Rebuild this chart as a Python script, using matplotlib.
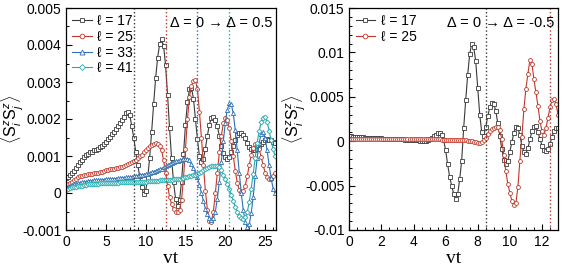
import matplotlib
matplotlib.use('Agg')
import matplotlib.pyplot as plt
import numpy as np
from matplotlib.ticker import MultipleLocator, FuncFormatter

plt.rcParams['font.family'] = ['Liberation Sans', 'DejaVu Sans']
plt.rcParams['mathtext.fontset'] = 'custom'
plt.rcParams['mathtext.rm'] = 'Liberation Sans'
plt.rcParams['mathtext.it'] = 'Liberation Sans:italic'

# left panel, Delta = 0 -> 0.5, vt step 0.25, values in units of 1e-3
t_left = np.arange(0, 26.26, 0.25)
left_17 = [0.40, 0.43, 0.48, 0.53, 0.60, 0.67, 0.75, 0.83,
           0.90, 0.96, 1.02, 1.06, 1.10, 1.12, 1.15, 1.17,
           1.20, 1.24, 1.28, 1.33, 1.39, 1.45, 1.52, 1.59,
           1.66, 1.74, 1.82, 1.90, 1.98, 2.06, 2.15, 2.20,
           2.10, 1.82, 1.50, 1.12, 0.76, 0.45, 0.15, -0.03,
           0.05, 0.40, 0.95, 1.65, 2.40, 3.10, 3.65, 4.02,
           4.15, 3.98, 3.45, 2.65, 1.75, 0.95, 0.30, -0.15,
           -0.36, -0.20, 0.30, 1.05, 1.85, 2.45, 2.80, 2.85,
           2.55, 2.00, 1.45, 1.00, 0.85, 0.92, 1.20, 1.55,
           1.85, 2.02, 2.05, 1.98, 1.80, 1.55, 1.28, 1.08,
           0.96, 0.92, 0.97, 1.10, 1.27, 1.44, 1.56, 1.61,
           1.62, 1.58, 1.48, 1.36, 1.25, 1.18, 1.15, 1.16,
           1.20, 1.26, 1.33, 1.39, 1.43, 1.45, 1.44, 1.42,
           1.38, 1.35]
left_25 = [0.20, 0.23, 0.27, 0.31, 0.35, 0.39, 0.42, 0.45,
           0.47, 0.49, 0.50, 0.51, 0.51, 0.52, 0.53, 0.54,
           0.55, 0.57, 0.58, 0.60, 0.61, 0.62, 0.64, 0.65,
           0.66, 0.67, 0.68, 0.70, 0.71, 0.73, 0.75, 0.78,
           0.80, 0.83, 0.86, 0.90, 0.94, 0.99, 1.04, 1.10,
           1.15, 1.21, 1.26, 1.30, 1.33, 1.34, 1.33, 1.27,
           1.16, 0.88, 0.55, 0.20, -0.10, -0.30, -0.43, -0.50,
           -0.52, -0.45, -0.20, 0.40, 1.20, 2.00, 2.60, 2.90,
           3.02, 3.05, 2.80, 2.20, 1.50, 0.75, 0.05, -0.45,
           -0.75, -0.78, -0.50, 0.00, 0.55, 1.10, 1.55, 1.88,
           2.02, 1.98, 1.75, 1.40, 1.00, 0.60, 0.28, 0.08,
           0.02, 0.05, 0.20, 0.45, 0.75, 1.02, 1.22, 1.32,
           1.30, 1.18, 0.98, 0.75, 0.55, 0.42, 0.37, 0.38,
           0.45, 0.55]
left_33 = [0.15, 0.17, 0.19, 0.21, 0.23, 0.25, 0.26, 0.27,
           0.29, 0.30, 0.31, 0.32, 0.33, 0.33, 0.34, 0.34,
           0.35, 0.35, 0.36, 0.36, 0.37, 0.37, 0.38, 0.38,
           0.39, 0.39, 0.40, 0.40, 0.41, 0.41, 0.42, 0.42,
           0.43, 0.44, 0.45, 0.46, 0.47, 0.48, 0.49, 0.50,
           0.51, 0.52, 0.54, 0.56, 0.58, 0.60, 0.62, 0.64,
           0.66, 0.69, 0.72, 0.75, 0.78, 0.80, 0.83, 0.86,
           0.86, 0.88, 0.90, 0.92, 0.93, 0.93, 0.88, 0.79,
           0.67, 0.55, 0.42, 0.22, 0.00, -0.22, -0.42, -0.58,
           -0.68, -0.73, -0.68, -0.50, -0.15, 0.30, 0.85, 1.40,
           1.90, 2.25, 2.42, 2.40, 2.15, 1.70, 1.15, 0.55,
           0.00, -0.45, -0.78, -0.92, -0.85, -0.55, -0.10, 0.45,
           0.95, 1.35, 1.60, 1.65, 1.48, 1.15, 0.75, 0.40,
           0.12, 0.00]
left_41 = [0.09, 0.11, 0.13, 0.15, 0.16, 0.17, 0.18, 0.19,
           0.20, 0.21, 0.22, 0.23, 0.23, 0.24, 0.24, 0.25,
           0.25, 0.26, 0.26, 0.26, 0.27, 0.27, 0.27, 0.28,
           0.28, 0.28, 0.28, 0.29, 0.29, 0.29, 0.29, 0.30,
           0.30, 0.30, 0.30, 0.30, 0.31, 0.31, 0.31, 0.31,
           0.31, 0.32, 0.32, 0.32, 0.33, 0.33, 0.33, 0.34,
           0.34, 0.34, 0.35, 0.35, 0.36, 0.36, 0.37, 0.37,
           0.38, 0.39, 0.40, 0.41, 0.42, 0.43, 0.45, 0.46,
           0.48, 0.50, 0.52, 0.55, 0.58, 0.61, 0.64, 0.67,
           0.70, 0.72, 0.73, 0.73, 0.73, 0.70, 0.62, 0.50,
           0.37, 0.25, 0.12, -0.05, -0.22, -0.38, -0.52, -0.62,
           -0.68, -0.70, -0.66, -0.52, -0.25, 0.12, 0.52, 0.95,
           1.35, 1.68, 1.92, 2.03, 2.05, 1.92, 1.68, 1.42,
           1.18, 1.00]

# right panel, Delta = 0 -> -0.5, vt step 0.125, values in units of 1e-3
t_right = np.arange(0, 13.01, 0.125)
right_17 = [0.55, 0.54, 0.52, 0.50, 0.48, 0.46, 0.44, 0.42,
            0.40, 0.38, 0.37, 0.36, 0.35, 0.34, 0.33, 0.32,
            0.31, 0.30, 0.29, 0.28, 0.27, 0.26, 0.25, 0.24,
            0.23, 0.22, 0.21, 0.20, 0.19, 0.18, 0.16, 0.14,
            0.12, 0.10, 0.08, 0.06, 0.05, 0.05, 0.06, 0.10,
            0.20, 0.35, 0.55, 0.75, 0.90, 0.92, 0.75, 0.10,
            -1.0, -2.6, -4.0, -5.0, -5.9, -6.5, -6.0, -4.3,
            -2.2, 1.5, 4.6, 7.5, 9.8, 11.0, 10.6, 9.0,
            6.0, 3.0, 1.0, 0.6, 1.6, 2.8, 3.8, 4.3,
            4.2, 3.4, 2.0, 0.6, -0.9, -2.1, -2.6, -2.2,
            -1.2, -0.1, 0.9, 1.6, 1.5, 0.7, -0.5, -1.2,
            -1.4, -0.8, 0.2, 1.1, 1.6, 1.7, 1.0, 0.3,
            -0.5, -1.0, -1.15, -0.9, -0.3, 0.5, 1.2, 1.5,
            1.5]
right_25 = [0.22, 0.22, 0.22, 0.21, 0.21, 0.21, 0.21, 0.21,
            0.21, 0.21, 0.20, 0.20, 0.20, 0.20, 0.20, 0.20,
            0.20, 0.20, 0.20, 0.20, 0.20, 0.20, 0.20, 0.20,
            0.20, 0.20, 0.20, 0.20, 0.20, 0.20, 0.20, 0.20,
            0.20, 0.20, 0.20, 0.20, 0.20, 0.20, 0.20, 0.20,
            0.20, 0.20, 0.20, 0.20, 0.20, 0.20, 0.19, 0.19,
            0.19, 0.18, 0.18, 0.17, 0.17, 0.16, 0.16, 0.15,
            0.15, 0.12, 0.10, 0.07, 0.04, 0.00, -0.05, -0.10,
            -0.15, -0.15, -0.05, 0.10, 0.35, 0.80, 1.15, 1.35,
            1.50, 1.62, 1.65, 1.30, 0.20, -1.6, -3.4, -4.8,
            -5.8, -6.7, -7.2, -7.0, -5.2, -2.2, 0.5, 3.6,
            5.9, 7.6, 9.1, 8.7, 7.0, 5.5, 4.0, 2.3,
            1.1, 0.7, 1.5, 2.6, 3.8, 4.6, 4.8, 4.2,
            3.0]

colors = {'17': '#3a3a3a', '25': '#c0392b', '33': '#2f6fb3', '41': '#22aab0'}
markers = {'17': 's', '25': 'o', '33': '^', '41': 'D'}
msizes = {'17': 2.8, '25': 2.8, '33': 3.0, '41': 2.5}


def draw(ax, t, series, keys):
    for y, k in zip(series, keys):
        ax.plot(t, np.array(y) * 1e-3, color=colors[k], lw=0.8, marker=markers[k],
                ms=msizes[k], mfc='white', mec=colors[k], mew=0.6,
                label='ℓ = ' + k)


def style(ax, label_x):
    ax.tick_params(which='both', direction='in', top=False, right=False, labelsize=10)
    ax.tick_params(which='major', length=4.5, width=0.8)
    ax.tick_params(which='minor', length=2.5, width=0.7)
    for s in ax.spines.values():
        s.set_linewidth(0.9)
    ax.set_xlabel('vt', family='Liberation Serif', fontsize=14, labelpad=1)
    ax.set_ylabel(r'$\langle \mathrm{S}^{z}_{i}\mathrm{S}^{z}_{j}\rangle$', fontsize=11.5)
    ax.yaxis.set_label_coords(label_x, 0.5)
    ax.yaxis.set_major_formatter(FuncFormatter(
        lambda v, p: '0' if abs(v) < 1e-12 else ('%g' % round(v, 4))))
    ax.legend(loc='upper left', frameon=False, fontsize=10, handlelength=1.4,
              handletextpad=0.4, labelspacing=0.12, borderaxespad=0.25,
              borderpad=0.2, markerscale=1.2)


fig = plt.figure(figsize=(5.77, 2.77), dpi=100)
ax1 = fig.add_axes([66 / 577, 1 - 230 / 277, (275.5 - 66) / 577, 222 / 277])
ax2 = fig.add_axes([349.3 / 577, 1 - 230 / 277, (558 - 349.3) / 577, 222 / 277])

draw(ax1, t_left, [left_17, left_25, left_33, left_41], ['17', '25', '33', '41'])
for x, k in zip([8.5, 12.5, 16.5, 20.5], ['17', '25', '33', '41']):
    ax1.axvline(x, color=colors[k], ls=':', lw=1.0)
ax1.set_xlim(0, 26.3)
ax1.set_ylim(-0.001, 0.005)
ax1.xaxis.set_major_locator(MultipleLocator(5))
ax1.xaxis.set_minor_locator(MultipleLocator(1))
ax1.yaxis.set_major_locator(MultipleLocator(0.001))
ax1.yaxis.set_minor_locator(MultipleLocator(0.0005))
style(ax1, -0.19)
ax1.text(0.985, 0.965, 'Δ = 0 → Δ = 0.5', transform=ax1.transAxes, ha='right', va='top', fontsize=10.5)

draw(ax2, t_right, [right_17, right_25], ['17', '25'])
for x, k in zip([8.5, 12.5], ['17', '25']):
    ax2.axvline(x, color=colors[k], ls=':', lw=1.0)
ax2.set_xlim(0, 13)
ax2.set_ylim(-0.01, 0.015)
ax2.xaxis.set_major_locator(MultipleLocator(2))
ax2.xaxis.set_minor_locator(MultipleLocator(0.5))
ax2.yaxis.set_major_locator(MultipleLocator(0.005))
ax2.yaxis.set_minor_locator(MultipleLocator(0.001))
style(ax2, -0.2)
ax2.text(0.985, 0.965, 'Δ = 0 → Δ = -0.5', transform=ax2.transAxes, ha='right', va='top', fontsize=10.5)

fig.savefig('out.png', dpi=100)
